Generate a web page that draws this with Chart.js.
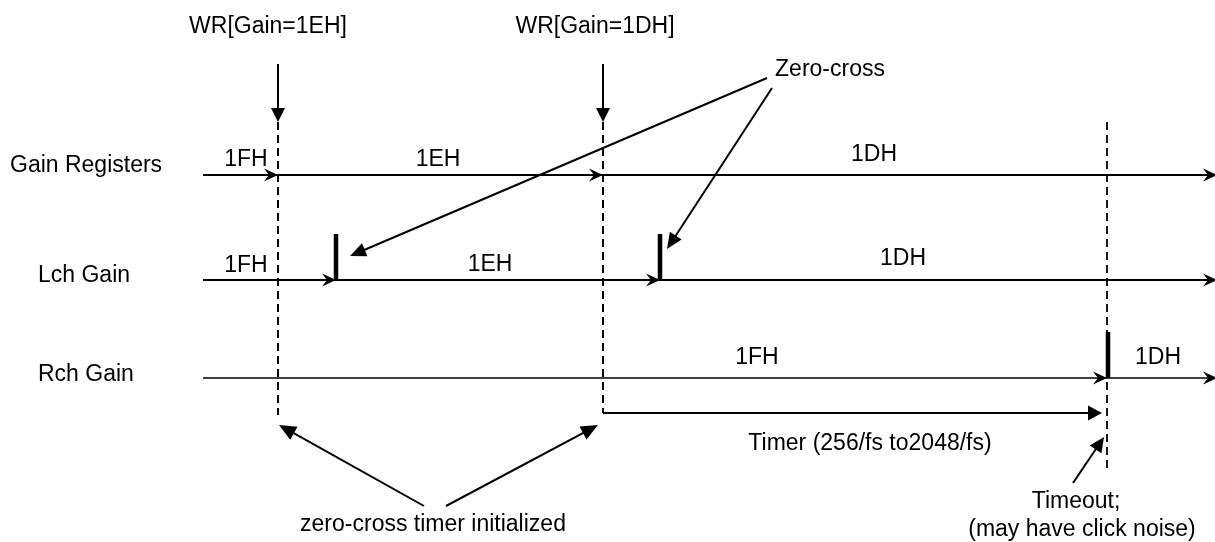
<!DOCTYPE html>
<html><head><meta charset="utf-8">
<script src="https://cdn.jsdelivr.net/npm/chart.js@4/dist/chart.umd.min.js"></script>
<style>html,body{margin:0;padding:0;background:#fff;overflow:hidden}#wrap{width:1215px;height:542px}</style>
</head><body><div id="wrap"><canvas id="c" width="1215" height="542"></canvas></div>
<script>
// ---- data (diagram units: time along x, signal rows along y) ----
const rowNames = ['Gain Registers', 'Lch Gain', 'Rch Gain'];
const rowLevels = [175, 280, 378];
const timeStart = 203;
const timeEnd = 1216;
const writeTimes = [278, 603];
const writeLabels = ['WR[Gain=1EH]', 'WR[Gain=1DH]'];
const gainRegValues = ['1FH', '1EH', '1DH'];
const gainRegChanges = [278, 603];
const lchValues = ['1FH', '1EH', '1DH'];
const lchChanges = [336, 660];
const rchValues = ['1FH', '1DH'];
const rchChanges = [1107];
const timeoutTime = 1107;
const timerLabel = 'Timer (256/fs to2048/fs)';
const zeroCrossLabel = 'Zero-cross';
const initLabel = 'zero-cross timer initialized';
const timeoutLabels = ['Timeout;', '(may have click noise)'];

// ---- layout of annotations (diagram units) ----
const FONT = '23px "Liberation Sans", Arial, Helvetica, sans-serif';
const dashTop = 122, dashBottom = [415, 413], timeoutBottom = 468;
const timerY = 413, timerTip = 1102;
const wrArrowTop = 64, wrArrowTip = 122;
const barTop = [234, 234], rchBarTop = 332;

const annotArrows = [
  {from: [767, 78], to: [350, 256], L: 16, W: 7},
  {from: [772, 88], to: [667, 249], L: 16, W: 7},
  {from: [424, 506], to: [279, 425], L: 17, W: 7.5},
  {from: [446, 506], to: [598, 425], L: 17, W: 7.5},
  {from: [1073, 483], to: [1104, 437], L: 15, W: 7}
];

const texts = [
  {t: writeLabels[0], x: 268, y: 27},
  {t: writeLabels[1], x: 595, y: 27},
  {t: zeroCrossLabel, x: 830, y: 70},
  {t: rowNames[0], x: 10, y: 166, align: 'left'},
  {t: rowNames[1], x: 38, y: 276, align: 'left'},
  {t: rowNames[2], x: 38, y: 375, align: 'left'},
  {t: gainRegValues[0], x: 246, y: 160},
  {t: gainRegValues[1], x: 438, y: 160},
  {t: gainRegValues[2], x: 874, y: 155},
  {t: lchValues[0], x: 246, y: 266},
  {t: lchValues[1], x: 490, y: 265},
  {t: lchValues[2], x: 903, y: 259},
  {t: rchValues[0], x: 757, y: 358},
  {t: rchValues[1], x: 1158, y: 358},
  {t: timerLabel, x: 870, y: 444},
  {t: initLabel, x: 433, y: 525},
  {t: timeoutLabels[0], x: 1076, y: 502},
  {t: timeoutLabels[1], x: 1082, y: 530}
];

// ---- build datasets ----
const datasets = [];
function seg(x1, y1, x2, y2, opts) {
  datasets.push(Object.assign({
    data: [{x: x1, y: y1}, {x: x2, y: y2}],
    showLine: true, borderColor: '#000', borderWidth: 2, pointRadius: 0,
    fill: false, tension: 0, borderCapStyle: 'butt'
  }, opts || {}));
}
const stealth = []; // line-end arrowheads
const filled = [];  // filled triangle arrowheads

// signal rows
const rowChanges = [gainRegChanges, lchChanges, rchChanges];
rowLevels.forEach((y, i) => {
  seg(timeStart, y, timeEnd - 3, y, {borderWidth: i === 2 ? 1.7 : 2.2});
  rowChanges[i].forEach(t => stealth.push({from: [t - 20, y], to: [t, y], L: 14, W: 6.5}));
  stealth.push({from: [timeEnd - 20, y], to: [timeEnd + 1, y], L: 14, W: 6.5});
});
// dashed write markers
writeTimes.forEach((t, i) => seg(t, dashTop, t, dashBottom[i], {borderDash: [8, 5], borderWidth: 2}));
seg(timeoutTime, dashTop, timeoutTime, timeoutBottom, {borderDash: [8, 5], borderWidth: 1.8});
// WR arrows
writeTimes.forEach(t => {
  seg(t, wrArrowTop, t, wrArrowTip - 8);
  filled.push({from: [t, wrArrowTop], to: [t, wrArrowTip], L: 14, W: 7});
});
// zero-cross gain change bars
lchChanges.forEach((t, i) => seg(t, barTop[i], t, rowLevels[1], {borderWidth: 4.5}));
rchChanges.forEach(t => seg(t + 1, rchBarTop, t + 1, rowLevels[2], {borderWidth: 4.5}));
// timer
seg(writeTimes[1], timerY, timerTip - 8, timerY);
filled.push({from: [writeTimes[1], timerY], to: [timerTip, timerY], L: 14, W: 7.5});
// annotation arrows
annotArrows.forEach(a => {
  const dx = a.to[0] - a.from[0], dy = a.to[1] - a.from[1];
  const len = Math.hypot(dx, dy), k = (len - a.L * 0.6) / len;
  seg(a.from[0], a.from[1], a.from[0] + dx * k, a.from[1] + dy * k);
  filled.push(a);
});

const drawPlugin = {
  id: 'diagramDecor',
  afterDatasetsDraw(chart) {
    const c = chart.ctx, xs = chart.scales.x, ys = chart.scales.y;
    const P = p => [xs.getPixelForValue(p[0]), ys.getPixelForValue(p[1])];
    c.save();
    c.fillStyle = '#000';
    function head(a, notch) {
      const f = P(a.from), t = P(a.to);
      const ang = Math.atan2(t[1] - f[1], t[0] - f[0]);
      const L = a.L || 13, W = a.W || 6.5;
      c.save();
      c.translate(t[0], t[1]);
      c.rotate(ang);
      c.beginPath();
      c.moveTo(0, 0);
      c.lineTo(-L, -W);
      if (notch) c.lineTo(-L + notch, 0);
      c.lineTo(-L, W);
      c.closePath();
      c.fill();
      c.restore();
    }
    stealth.forEach(a => head(a, 5));
    filled.forEach(a => head(a, 0));
    c.font = FONT;
    c.textBaseline = 'middle';
    texts.forEach(o => {
      c.textAlign = o.align || 'center';
      const p = P([o.x, o.y]);
      c.fillText(o.t, p[0], p[1]);
    });
    c.restore();
  }
};

new Chart(document.getElementById('c'), {
  type: 'scatter',
  data: {datasets},
  options: {
    responsive: false, animation: false, devicePixelRatio: 1,
    layout: {padding: 0},
    events: [],
    scales: {
      x: {type: 'linear', min: 0, max: 1215, display: false},
      y: {type: 'linear', min: 0, max: 542, reverse: true, display: false}
    },
    plugins: {legend: {display: false}, tooltip: {enabled: false}}
  },
  plugins: [drawPlugin]
});
</script></body></html>
